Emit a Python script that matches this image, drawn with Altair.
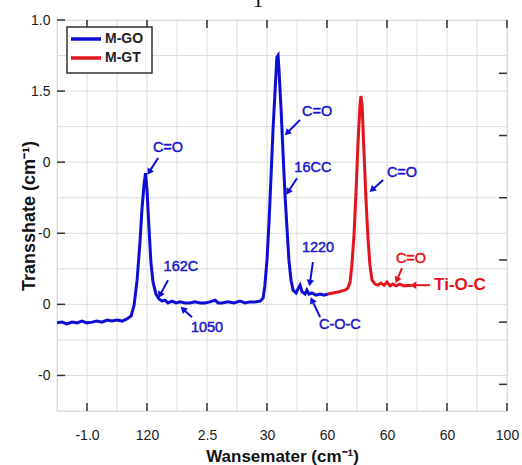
import math
import altair as alt
import pandas as pd

W, H = 450, 391
BLUE = "#0d0dd6"
BLUE_TXT = "#2626c4"
RED = "#e3141c"
FONT = "Liberation Sans"

# ---- data (x, y in the chart's own units) ----
go_x = [0, 0.17, 0.33, 0.5, 0.67, 0.83, 1.0, 1.17, 1.33, 1.5, 1.67, 1.83, 2.0, 2.17, 2.33,
        2.47, 2.57, 2.67, 2.77, 2.83, 2.9, 2.95, 3.0, 3.07, 3.13, 3.2, 3.3, 3.4, 3.5, 3.6,
        3.7, 3.83, 3.97, 4.1, 4.27, 4.43, 4.6, 4.77, 4.93, 5.1, 5.27, 5.37, 5.5, 5.7, 5.9,
        6.1, 6.27, 6.43, 6.6, 6.77, 6.87, 6.93, 7.0, 7.07, 7.13, 7.2, 7.27, 7.33, 7.37, 7.4,
        7.47, 7.53, 7.6, 7.67, 7.73, 7.8, 7.87, 7.97, 8.03, 8.1, 8.17, 8.27, 8.33, 8.4, 8.5,
        8.63, 8.77, 8.9, 9.03]
go_y = [2.48, 2.5, 2.45, 2.5, 2.48, 2.53, 2.48, 2.5, 2.53, 2.5, 2.56, 2.53, 2.56, 2.53, 2.59,
        2.67, 2.98, 3.68, 4.81, 5.65, 6.36, 6.69, 6.22, 5.09, 4.19, 3.63, 3.29, 3.15, 3.09, 3.12,
        3.04, 3.09, 3.04, 3.07, 3.04, 3.04, 3.07, 3.04, 3.04, 3.07, 3.12, 3.04, 3.04, 3.07, 3.04,
        3.09, 3.04, 3.07, 3.07, 3.09, 3.18, 3.54, 4.25, 5.37, 6.5, 7.9, 9.03, 9.95, 10.0, 9.59,
        8.47, 7.34, 6.08, 5.09, 4.25, 3.68, 3.4, 3.32, 3.43, 3.54, 3.35, 3.29, 3.4, 3.29, 3.32,
        3.26, 3.29, 3.26, 3.29]
gt_x = [9.03, 9.2, 9.37, 9.5, 9.6, 9.7, 9.77, 9.83, 9.9, 9.97, 10.03, 10.1, 10.13, 10.17,
        10.23, 10.3, 10.37, 10.43, 10.5, 10.6, 10.7, 10.8, 10.9, 11.0, 11.1, 11.2, 11.3,
        11.43, 11.57, 11.7, 11.83]
gt_y = [3.29, 3.32, 3.35, 3.38, 3.4, 3.46, 3.63, 4.11, 4.95, 6.22, 7.48, 8.61, 8.86, 8.61,
        7.34, 5.94, 4.81, 4.11, 3.68, 3.57, 3.54, 3.6, 3.54, 3.63, 3.52, 3.57, 3.52,
        3.57, 3.52, 3.54, 3.52]
series_names = ["M-GO", "M-GT"]

x_tick_vals = [1, 3, 5, 7, 9, 11, 13, 15]
x_tick_labels = ["-1.0", "120", "2.5", "30", "60", "60", "60", "100"]
y_tick_vals = [11, 9, 7, 5, 3, 1]
y_tick_labels = ["1.0", "1.5", "0", "-0", "0", "-0"]
y_right_ticks = [9.5, 7.75, 6.0, 4.25, 2.5, 0.75]
x_grid = list(range(0, 16))
y_grid = list(range(0, 12))

ann_text = ["C=O", "162C", "1050", "C=O", "16CC", "1220", "C-O-C", "C=O", "C=O"]
ann_x = [3.7, 4.13, 5.0, 8.67, 8.53, 8.7, 9.43, 11.5, 11.8]
ann_y = [7.4, 4.05, 2.33, 8.41, 6.84, 4.59, 2.42, 6.69, 4.28]
ann_series = ["M-GO"] * 8 + ["M-GT"]

arr_x1 = [3.37, 3.7, 4.5, 8.1, 8.0, 8.53, 8.77, 10.87, 11.5, 12.43]
arr_y1 = [7.12, 3.68, 2.64, 8.19, 6.55, 4.19, 2.64, 6.5, 4.02, 3.54]
arr_x2 = [3.07, 3.43, 4.2, 7.67, 7.7, 8.43, 8.5, 10.5, 11.33, 11.87]
arr_y2 = [6.72, 3.26, 2.87, 7.82, 6.16, 3.6, 3.12, 6.22, 3.68, 3.54]
arr_series = ["M-GO"] * 8 + ["M-GT"] * 2

big_label = "Ti-O-C"
big_label_x = 12.57
big_label_y = 3.54

# ---- tables ----
curve = pd.concat([
    pd.DataFrame({"x": go_x, "y": go_y, "series": series_names[0]}),
    pd.DataFrame({"x": gt_x, "y": gt_y, "series": series_names[1]}),
])
ann = pd.DataFrame({"x": ann_x, "y": ann_y, "t": ann_text, "s": ann_series})
arr = pd.DataFrame({"x": arr_x1, "y": arr_y1, "x2": arr_x2, "y2": arr_y2, "s": arr_series})
px_x, px_y = W / 15.0, H / 11.0
arr["ang"] = [
    (math.degrees(math.atan2((b - a) * px_x, (d - c) * px_y)) + 360) % 360
    for a, b, c, d in zip(arr.x, arr.x2, arr.y, arr.y2)
]

xs = alt.Scale(domain=[0, 15], nice=False, zero=False)
ys = alt.Scale(domain=[0, 11], nice=False, zero=False)


def lab_expr(vals, labs):
    parts = [f"datum.value == {v} ? '{l}'" for v, l in zip(vals, labs)]
    return " : ".join(parts) + " : ''"


X_AX = alt.Axis(
    values=x_tick_vals, labelExpr=lab_expr(x_tick_vals, x_tick_labels),
    ticks=False, domain=False, grid=False, labelFontSize=14, labelFont=FONT,
    labelColor="#1a1a1a", labelPadding=17, labelFlush=False,
    title="Wansemater (cm⁻¹)", titleFont=FONT, titleFontSize=17, titleFontWeight="bold",
    titleColor="#111", titleBaseline="middle", titleY=45)
Y_AX = alt.Axis(
    values=y_tick_vals, labelExpr=lab_expr(y_tick_vals, y_tick_labels),
    ticks=False, domain=False, grid=False, labelFontSize=14, labelFont=FONT,
    labelColor="#1a1a1a", labelPadding=7, labelFlush=False,
    title="Transshate (cm⁻¹)", titleFont=FONT, titleFontSize=18, titleFontWeight="bold",
    titleColor="#111", titleAngle=270, titleBaseline="middle", titleAlign="center",
    titleX=-28, titleY=H / 2)


def X(f):
    return alt.X(f, type="quantitative", scale=xs, axis=X_AX)


def Y(f):
    return alt.Y(f, type="quantitative", scale=ys, axis=Y_AX)


GRID = "#dcdcdc"
gx = alt.Chart(pd.DataFrame({"x": x_grid})).mark_rule(color=GRID, strokeWidth=1).encode(x=X("x"))
gy = alt.Chart(pd.DataFrame({"y": y_grid})).mark_rule(color=GRID, strokeWidth=1).encode(y=Y("y"))

lines = alt.Chart(curve).mark_line(strokeWidth=3).encode(
    x=X("x"), y=Y("y"),
    color=alt.Color("series:N", scale=alt.Scale(domain=series_names, range=[BLUE, RED]),
                    legend=None),
    order="x:Q",
)

TICK = dict(color="#333", strokeWidth=1.5)
tb = alt.Chart(pd.DataFrame({"x": x_tick_vals})).mark_rule(**TICK).encode(
    x=X("x"), y=alt.value(H), y2=alt.value(H - 8))
tt = alt.Chart(pd.DataFrame({"x": x_tick_vals})).mark_rule(**TICK).encode(
    x=X("x"), y=alt.value(0), y2=alt.value(8))
tl = alt.Chart(pd.DataFrame({"y": y_tick_vals})).mark_rule(**TICK).encode(
    y=Y("y"), x=alt.value(0), x2=alt.value(8))
tr = alt.Chart(pd.DataFrame({"y": y_right_ticks})).mark_rule(**TICK).encode(
    y=Y("y"), x=alt.value(W - 8), x2=alt.value(W))

acol = alt.Color("s:N", scale=alt.Scale(domain=series_names, range=[BLUE_TXT, RED]), legend=None)
shafts = alt.Chart(arr).mark_rule(strokeWidth=2).encode(
    x=X("x"), y=Y("y"), x2="x2:Q", y2="y2:Q", color=acol)
heads = alt.Chart(arr).mark_point(shape="triangle-up", filled=True, size=55, opacity=1).encode(
    x=X("x2"), y=Y("y2"), angle=alt.Angle("ang:Q", scale=None), color=acol)

texts = alt.Chart(ann).mark_text(fontSize=14.5, font=FONT, align="center", baseline="middle",
                                 strokeWidth=0.5).encode(
    x=X("x"), y=Y("y"), text="t:N", color=acol, stroke=acol)
big = alt.Chart(pd.DataFrame({"x": [big_label_x], "y": [big_label_y], "t": [big_label]})).mark_text(
    fontSize=17, font=FONT, fontWeight="bold", align="left", baseline="middle", color=RED).encode(
    x=X("x"), y=Y("y"), text="t:N")

# legend box (drawn by hand so rows sit close together)
leg_box = alt.Chart(pd.DataFrame({"t": ["legend"]})).mark_rect(
    fill="white", stroke="#333", strokeWidth=1.5).encode(
    x=alt.value(10), x2=alt.value(95), y=alt.value(7), y2=alt.value(53))
leg_layers = []
for i, (name, col) in enumerate(zip(series_names, [BLUE, RED])):
    ly = 19 + 19 * i
    d = pd.DataFrame({"series": [name]})
    leg_layers.append(alt.Chart(d).mark_rule(color=col, strokeWidth=3.5).encode(
        x=alt.value(14), x2=alt.value(44), y=alt.value(ly)))
    leg_layers.append(alt.Chart(d).mark_text(
        fontSize=14, font=FONT, fontWeight="bold", align="left", baseline="middle",
        color="#222").encode(x=alt.value(48), y=alt.value(ly), text="series:N"))

top_glyph = alt.Chart(pd.DataFrame({"t": ["1"]})).mark_text(
    fontSize=22, font="Liberation Serif", align="center", baseline="alphabetic", color="#111").encode(
    x=alt.value(201), y=alt.value(-13), text="t:N")

chart = alt.layer(gx, gy, lines, tb, tt, tl, tr, shafts, heads, texts, big,
                  leg_box, *leg_layers, top_glyph).properties(
    width=W, height=H,
    autosize=alt.AutoSizeParams(type="none"),
    padding={"left": 57, "top": 20, "right": 15, "bottom": 54},
).configure_view(stroke="#333", strokeWidth=1.5).configure(background="white")

chart.save("out.html", embed_options={"renderer": "svg", "actions": False})
